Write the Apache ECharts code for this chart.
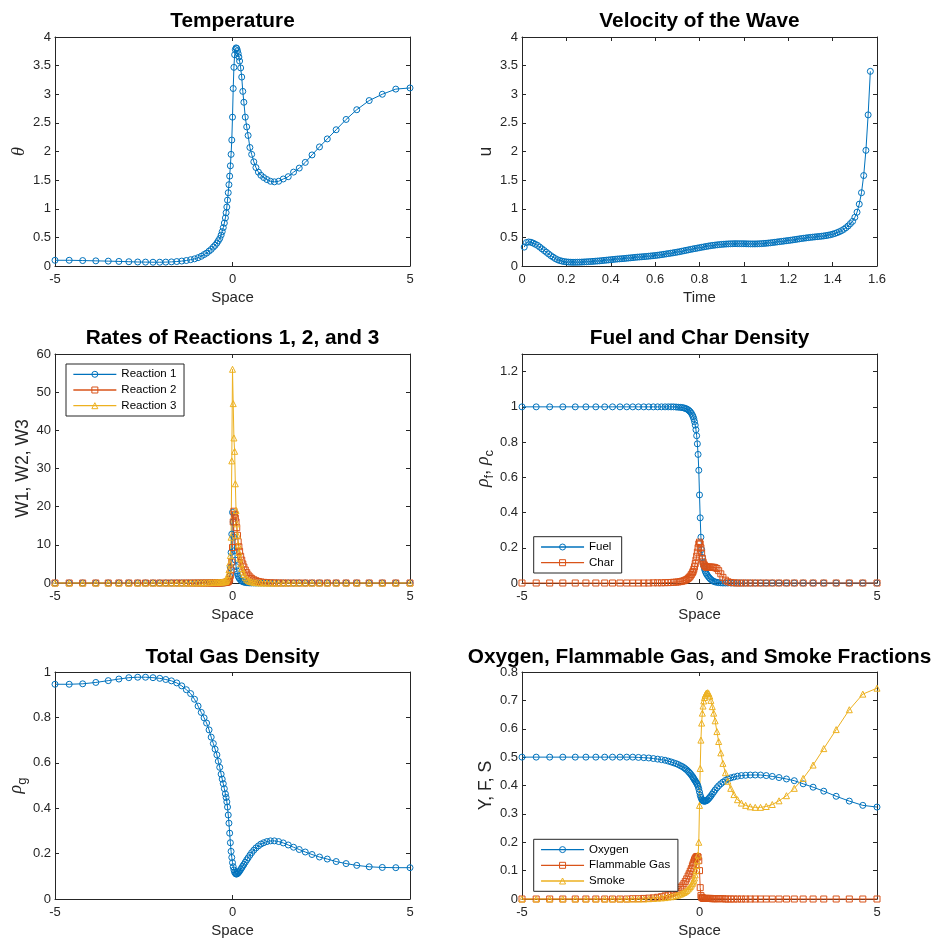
<!DOCTYPE html>
<html><head><meta charset="utf-8">
<script src="https://cdn.jsdelivr.net/npm/echarts@6/dist/echarts.min.js"></script>
<style>html,body{margin:0;padding:0;background:#fff}#c{width:933px;height:939px}</style>
</head><body><div id="c"></div>
<script>
// ---------- data ----------
const space = [-5,-4.6,-4.22,-3.85,-3.5,-3.2,-2.92,-2.67,-2.45,-2.24,
-2.05,-1.88,-1.72,-1.57,-1.43,-1.3,-1.18,-1.07,-0.97,-0.88,
-0.8,-0.73,-0.66,-0.6,-0.54,-0.49,-0.44,-0.4,-0.36,-0.32,
-0.29,-0.26,-0.23,-0.2,-0.18,-0.16,-0.14,-0.12,-0.1,-0.08,
-0.06,-0.04,-0.02,0,0.02,0.04,0.06,0.08,0.1,0.12,
0.14,0.16,0.18,0.2,0.23,0.26,0.29,0.32,0.36,0.4,
0.44,0.49,0.54,0.6,0.66,0.73,0.8,0.88,0.97,1.07,
1.18,1.3,1.43,1.57,1.72,1.88,2.05,2.24,2.45,2.67,
2.92,3.2,3.5,3.85,4.22,4.6,5];

const theta = [0.1,0.1,0.095,0.09,0.085,0.08,0.075,0.07,0.068,0.066,
0.066,0.068,0.072,0.078,0.086,0.096,0.11,0.125,0.145,0.17,
0.2,0.225,0.26,0.29,0.33,0.36,0.4,0.44,0.48,0.54,
0.6,0.67,0.75,0.84,0.93,1.03,1.15,1.28,1.42,1.57,
1.75,1.95,2.2,2.6,3.1,3.47,3.69,3.78,3.81,3.8,
3.76,3.71,3.65,3.58,3.46,3.3,3.05,2.86,2.6,2.43,
2.28,2.07,1.95,1.82,1.72,1.64,1.585,1.545,1.51,1.48,
1.47,1.48,1.52,1.56,1.64,1.71,1.81,1.94,2.08,2.22,
2.38,2.56,2.73,2.89,3.0,3.09,3.11];

const time = [0.01,0.02,0.03,0.04,0.05,0.06,0.07,0.08,0.09,0.10,
0.11,0.12,0.13,0.14,0.15,0.16,0.17,0.18,0.19,0.20,
0.21,0.22,0.23,0.24,0.25,0.26,0.27,0.28,0.29,0.30,
0.31,0.32,0.33,0.34,0.35,0.36,0.37,0.38,0.39,0.40,
0.41,0.42,0.43,0.44,0.45,0.46,0.47,0.48,0.49,0.50,
0.51,0.52,0.53,0.54,0.55,0.56,0.57,0.58,0.59,0.60,
0.61,0.62,0.63,0.64,0.65,0.66,0.67,0.68,0.69,0.70,
0.71,0.72,0.73,0.74,0.75,0.76,0.77,0.78,0.79,0.80,
0.81,0.82,0.83,0.84,0.85,0.86,0.87,0.88,0.89,0.90,
0.91,0.92,0.93,0.94,0.95,0.96,0.97,0.98,0.99,1.00,
1.01,1.02,1.03,1.04,1.05,1.06,1.07,1.08,1.09,1.10,
1.11,1.12,1.13,1.14,1.15,1.16,1.17,1.18,1.19,1.20,
1.21,1.22,1.23,1.24,1.25,1.26,1.27,1.28,1.29,1.30,
1.31,1.32,1.33,1.34,1.35,1.36,1.37,1.38,1.39,1.40,
1.41,1.42,1.43,1.44,1.45,1.46,1.47,1.48,1.49,1.50,
1.51,1.52,1.53,1.54,1.55,1.56,1.57];

const velocity = [0.33,0.41,0.42,0.415,0.40,0.38,0.36,0.33,0.30,0.27,
0.24,0.21,0.18,0.155,0.13,0.11,0.095,0.085,0.077,0.072,
0.068,0.066,0.065,0.065,0.066,0.067,0.069,0.071,0.073,0.076,
0.078,0.081,0.084,0.087,0.09,0.094,0.098,0.102,0.106,0.11,
0.114,0.118,0.122,0.125,0.128,0.131,0.135,0.139,0.143,0.147,
0.151,0.155,0.158,0.161,0.164,0.167,0.171,0.175,0.179,0.183,
0.188,0.193,0.199,0.205,0.211,0.217,0.223,0.229,0.236,0.243,
0.25,0.258,0.266,0.274,0.282,0.29,0.298,0.305,0.312,0.32,
0.327,0.334,0.341,0.348,0.355,0.36,0.365,0.37,0.374,0.378,
0.381,0.384,0.386,0.388,0.389,0.39,0.39,0.39,0.39,0.389,
0.388,0.387,0.386,0.386,0.386,0.387,0.389,0.391,0.394,0.397,
0.401,0.405,0.41,0.415,0.42,0.425,0.43,0.435,0.44,0.445,
0.45,0.456,0.462,0.468,0.474,0.48,0.485,0.49,0.495,0.5,
0.504,0.508,0.512,0.516,0.52,0.525,0.531,0.538,0.546,0.556,
0.568,0.582,0.598,0.617,0.64,0.668,0.70,0.74,0.78,0.85,
0.94,1.08,1.28,1.58,2.02,2.64,3.40];

const reaction1 = [0,0,0,0,0,0,0,0,0,0,
0,0,0,0,0,0,0,0,0,0,
0,0,0,0,0,0,0,0.01,0.01,0.02,
0.03,0.04,0.06,0.1,0.14,0.2,0.3,0.45,0.9,1.8,
4,8,12.8,18.5,16,12,8.5,6,4.3,3.2,
2.4,1.8,1.4,1.1,0.75,0.5,0.35,0.25,0.15,0.1,
0.06,0.03,0.02,0.01,0,0,0,0,0,0,
0,0,0,0,0,0,0,0,0,0,
0,0,0,0,0,0,0];

const reaction2 = [0,0,0,0,0,0,0,0,0,0,
0,0,0,0,0,0,0,0,0,0,
0,0,0,0,0,0.01,0.01,0.02,0.03,0.05,
0.06,0.08,0.11,0.15,0.18,0.22,0.28,0.35,0.55,1.0,
2.0,3.4,5.5,9.3,16,18.8,18,17,16,14.5,
12.5,10.8,9.5,8.3,7,6,5,4.2,3.4,2.7,
2.1,1.6,1.2,0.85,0.6,0.4,0.27,0.17,0.1,0.06,
0.03,0.02,0.01,0,0,0,0,0,0,0,
0,0,0,0,0,0,0];

const reaction3 = [0,0,0,0,0,0,0,0,0,0,
0,0,0,0,0.01,0.02,0.03,0.04,0.05,0.06,
0.07,0.08,0.1,0.12,0.14,0.16,0.18,0.2,0.22,0.25,
0.28,0.3,0.35,0.4,0.5,0.8,1.3,2.2,3.5,5.2,
7.2,12,32,56,47,38,34.5,26,19,15.5,
12.5,10,8,6.5,5,3.8,2.9,2.2,1.5,1.0,
0.7,0.45,0.3,0.18,0.1,0.06,0.03,0.01,0,0,
0,0,0,0,0,0,0,0,0,0,
0,0,0,0,0,0,0];

const fuel = [1,1,1,1,1,1,1,1,1,1,
1,1,1,1,1,1,1,1,1,1,
1,1,0.999,0.998,0.997,0.996,0.994,0.991,0.988,0.983,
0.978,0.972,0.964,0.953,0.944,0.932,0.916,0.896,0.87,0.836,
0.79,0.73,0.64,0.5,0.37,0.26,0.19,0.145,0.115,0.095,
0.08,0.068,0.058,0.05,0.041,0.033,0.026,0.02,0.014,0.009,
0.006,0.004,0.002,0.001,0,0,0,0,0,0,
0,0,0,0,0,0,0,0,0,0,
0,0,0,0,0,0,0];

const charD = [0,0,0,0,0,0,0,0,0,0,
0,0,0,0,0,0.001,0.001,0.001,0.002,0.002,
0.003,0.004,0.005,0.006,0.008,0.01,0.013,0.016,0.02,0.026,
0.032,0.039,0.048,0.058,0.066,0.078,0.092,0.11,0.13,0.152,
0.175,0.2,0.222,0.232,0.222,0.2,0.17,0.14,0.12,0.108,
0.1,0.095,0.092,0.09,0.09,0.09,0.09,0.09,0.09,0.089,
0.087,0.082,0.07,0.052,0.032,0.016,0.007,0.003,0.001,0,
0,0,0,0,0,0,0,0,0,0,
0,0,0,0,0,0,0];

const gasDensity = [0.946,0.946,0.948,0.954,0.962,0.969,0.975,0.977,0.977,0.975,
0.972,0.967,0.961,0.952,0.939,0.922,0.905,0.88,0.85,0.822,
0.798,0.775,0.745,0.713,0.685,0.66,0.635,0.607,0.58,0.55,
0.528,0.508,0.486,0.463,0.447,0.428,0.405,0.37,0.334,0.29,
0.248,0.21,0.183,0.16,0.142,0.128,0.118,0.113,0.11,0.11,
0.112,0.115,0.119,0.123,0.13,0.137,0.145,0.152,0.162,0.172,
0.181,0.193,0.204,0.215,0.225,0.234,0.242,0.248,0.253,0.256,
0.256,0.253,0.247,0.238,0.228,0.218,0.207,0.196,0.185,0.176,
0.165,0.156,0.148,0.142,0.139,0.138,0.138];

const oxygen = [0.5,0.5,0.5,0.5,0.5,0.5,0.5,0.5,0.5,0.5,
0.5,0.5,0.499,0.498,0.497,0.495,0.493,0.491,0.489,0.486,
0.483,0.48,0.477,0.474,0.47,0.467,0.463,0.459,0.455,0.45,
0.446,0.442,0.437,0.432,0.428,0.424,0.42,0.416,0.412,0.408,
0.403,0.397,0.388,0.377,0.366,0.358,0.352,0.348,0.346,0.345,
0.345,0.345,0.346,0.347,0.35,0.354,0.358,0.363,0.37,0.377,
0.384,0.392,0.399,0.406,0.412,0.418,0.423,0.427,0.43,0.433,
0.435,0.436,0.437,0.437,0.437,0.435,0.432,0.428,0.423,0.417,
0.406,0.394,0.38,0.362,0.345,0.33,0.324];

const flammable = [0,0,0,0,0,0,0,0,0,0,
0,0.001,0.001,0.002,0.003,0.004,0.006,0.008,0.011,0.014,
0.018,0.022,0.027,0.033,0.04,0.046,0.054,0.062,0.071,0.081,
0.089,0.098,0.107,0.117,0.124,0.131,0.138,0.143,0.147,0.149,
0.15,0.148,0.135,0.1,0.04,0.012,0.006,0.004,0.003,0.002,
0.002,0.002,0.002,0.002,0.002,0.002,0.002,0.002,0.001,0.001,
0.001,0.001,0.001,0.001,0.001,0,0,0,0,0,
0,0,0,0,0,0,0,0,0,0,
0,0,0,0,0,0,0];

const smoke = [0,0,0,0,0,0,0,0,0,0,
0,0,0,0,0.001,0.002,0.003,0.004,0.005,0.007,
0.008,0.01,0.012,0.014,0.017,0.02,0.023,0.026,0.03,0.035,
0.039,0.044,0.049,0.055,0.06,0.066,0.074,0.085,0.1,0.118,
0.135,0.155,0.2,0.33,0.46,0.56,0.62,0.655,0.68,0.698,
0.71,0.718,0.723,0.726,0.727,0.724,0.715,0.7,0.678,0.655,
0.628,0.59,0.555,0.515,0.478,0.445,0.415,0.39,0.368,0.35,
0.338,0.33,0.325,0.323,0.323,0.326,0.333,0.346,0.364,0.39,
0.425,0.472,0.53,0.597,0.667,0.722,0.743];

const titles = ['Temperature','Velocity of the Wave','Rates of Reactions 1, 2, and 3',
  'Fuel and Char Density','Total Gas Density','Oxygen, Flammable Gas, and Smoke Fractions'];

// ---------- layout ----------
const FONT = '"Liberation Sans", Arial, Helvetica, sans-serif';
const SERIF = '"Liberation Serif", "DejaVu Serif", serif';
const AX = '#262626';
const BLUE = '#0072BD', ORANGE = '#D95319', YELLOW = '#EDB120';
const W = 355, H = 229;
const boxes = [[55,37],[522,37],[55,354],[522,354],[55,672],[522,672]];

const grids = boxes.map(b => ({left: b[0], top: b[1], width: W, height: H, containLabel: false}));

const xAxes = [], yAxes = [];
function addAxes(gi, xr, yr, xName, yName, yNameGap, yNameStyle, yLabelExtra) {
  const line = {show: true, onZero: false, lineStyle: {color: AX, width: 1}};
  const tick = {show: true, inside: true, length: 4, lineStyle: {color: AX, width: 1}};
  const lbl = {color: AX, fontSize: 13, fontFamily: FONT};
  xAxes.push({type: 'value', gridIndex: gi, position: 'bottom', min: xr[0], max: xr[1], interval: xr[2],
    axisLine: line, axisTick: tick, splitLine: {show: false},
    axisLabel: Object.assign({margin: 7}, lbl),
    name: xName, nameLocation: 'middle', nameGap: 24,
    nameTextStyle: {color: AX, fontSize: 15, fontFamily: FONT}});
  xAxes.push({type: 'value', gridIndex: gi, position: 'top', min: xr[0], max: xr[1], interval: xr[2],
    axisLine: line, axisTick: tick, splitLine: {show: false}, axisLabel: {show: false}});
  yAxes.push({type: 'value', gridIndex: gi, position: 'left', min: yr[0], max: yr[1], interval: yr[2],
    axisLine: line, axisTick: tick, splitLine: {show: false},
    axisLabel: Object.assign({margin: 4}, lbl, yLabelExtra || {}),
    name: yName, nameLocation: 'middle', nameRotate: 90, nameGap: yNameGap,
    nameTextStyle: Object.assign({color: AX, fontSize: 17.6, fontFamily: FONT}, yNameStyle || {})});
  yAxes.push({type: 'value', gridIndex: gi, position: 'right', min: yr[0], max: yr[1], interval: yr[2],
    axisLine: line, axisTick: tick, splitLine: {show: false}, axisLabel: {show: false}});
}

const rhoRich = {
  r: {fontSize: 18, fontStyle: 'italic', fontFamily: SERIF, color: AX, lineHeight: 26, verticalAlign: 'middle'},
  s: {fontSize: 13, fontFamily: FONT, color: AX, lineHeight: 13, verticalAlign: 'bottom'},
  n: {fontSize: 17.6, fontFamily: FONT, color: AX, lineHeight: 26, verticalAlign: 'middle'}
};

addAxes(0, [-5,5,5], [0,4,0.5], 'Space', 'θ', 27, {fontStyle: 'italic', fontFamily: SERIF, fontSize: 18});
addAxes(1, [0,1.6,0.2], [0,4,0.5], 'Time', 'u', 27);
addAxes(2, [-5,5,5], [0,60,10], 'Space', 'W1, W2, W3', 22);
addAxes(3, [-5,5,5], [0,1.3,0.2], 'Space', '{r|ρ}{s|f}{n|, }{r|ρ}{s|c}', 25, {rich: rhoRich}, {showMaxLabel: false});
addAxes(4, [-5,5,5], [0,1,0.2], 'Space', '{r|ρ}{s|g}', 24, {rich: rhoRich});
addAxes(5, [-5,5,5], [0,0.8,0.1], 'Space', 'Y, F, S', 27);

function pairs(xs, ys) { return xs.map((x, i) => [x, ys[i]]); }
function ser(name, gi, data, color, symbol) {
  return {name, type: 'line', xAxisIndex: 2*gi, yAxisIndex: 2*gi, data, symbol, symbolSize: 6,
    showSymbol: true, showAllSymbol: true, clip: false, animation: false, silent: true,
    lineStyle: {color, width: 1}, itemStyle: {color: 'rgba(255,255,255,0)', borderColor: color, borderWidth: 1},
    emphasis: {disabled: true}};
}

const series = [
  ser('Temperature', 0, pairs(space, theta), BLUE, 'circle'),
  ser('Velocity', 1, pairs(time, velocity), BLUE, 'circle'),
  ser('Reaction 1', 2, pairs(space, reaction1), BLUE, 'circle'),
  ser('Reaction 2', 2, pairs(space, reaction2), ORANGE, 'rect'),
  ser('Reaction 3', 2, pairs(space, reaction3), YELLOW, 'triangle'),
  ser('Fuel', 3, pairs(space, fuel), BLUE, 'circle'),
  ser('Char', 3, pairs(space, charD), ORANGE, 'rect'),
  ser('Gas Density', 4, pairs(space, gasDensity), BLUE, 'circle'),
  ser('Oxygen', 5, pairs(space, oxygen), BLUE, 'circle'),
  ser('Flammable Gas', 5, pairs(space, flammable), ORANGE, 'rect'),
  ser('Smoke', 5, pairs(space, smoke), YELLOW, 'triangle')
];

function legend(names, left, top) {
  return {data: names, orient: 'vertical', left, top, selectedMode: false,
    backgroundColor: '#fff', borderColor: AX, borderWidth: 1, borderRadius: 0,
    padding: [3.3, 7.7, 3.3, 6.7], itemWidth: 43, itemHeight: 7.5, itemGap: 1.7,
    lineStyle: {width: 1.3}, itemStyle: {borderWidth: 1},
    textStyle: {fontSize: 11.5, fontFamily: FONT, color: '#000', lineHeight: 14}};
}

const titleY = [21, 21, 338, 338, 657, 657];
const graphic = titles.map((t, i) => ({type: 'text', x: boxes[i][0] + W/2, y: titleY[i], silent: true,
  style: {text: t, fill: '#000', font: 'bold 20.8px ' + FONT, textAlign: 'center', textVerticalAlign: 'middle'}}));

const chart = echarts.init(document.getElementById('c'), null, {renderer: 'canvas'});
chart.setOption({
  animation: false,
  backgroundColor: '#fff',
  grid: grids,
  xAxis: xAxes,
  yAxis: yAxes,
  legend: [
    legend(['Reaction 1','Reaction 2','Reaction 3'], 66, 364),
    legend(['Fuel','Char'], 533.7, 536.7),
    legend(['Oxygen','Flammable Gas','Smoke'], 533.7, 839.3)
  ],
  graphic,
  series
});
</script></body></html>
